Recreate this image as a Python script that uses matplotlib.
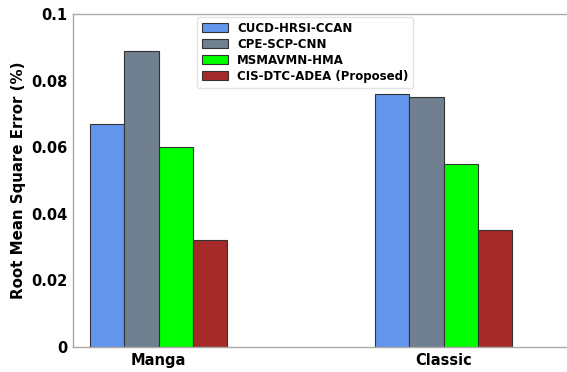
import matplotlib
matplotlib.use("Agg")
import matplotlib.pyplot as plt
import numpy as np

categories = ["Manga", "Classic"]
methods = ["CUCD-HRSI-CCAN", "CPE-SCP-CNN", "MSMAVMN-HMA", "CIS-DTC-ADEA (Proposed)"]
rmse_cucd = [0.067, 0.076]
rmse_cpe = [0.089, 0.075]
rmse_msmavmn = [0.060, 0.055]
rmse_cis = [0.032, 0.035]
yticks = [0, 0.02, 0.04, 0.06, 0.08, 0.1]
ytick_labels = ["0", "0.02", "0.04", "0.06", "0.08", "0.1"]

colors = ["#6495ED", "#708090", "#00FF00", "#A52A2A"]
series = [rmse_cucd, rmse_cpe, rmse_msmavmn, rmse_cis]

fig = plt.figure(figsize=(5.67, 3.72), dpi=100)
ax = fig.add_axes([73 / 567, 25 / 372, 513 / 567, 333 / 372])

x = np.arange(len(categories))
width = 0.121
for i, (vals, c, name) in enumerate(zip(series, colors, methods)):
    ax.bar(x + (i - 1.5) * width, vals, width, color=c, edgecolor="#333333",
           linewidth=0.8, label=name)

ax.set_xlim(-0.30, 1.50)
ax.set_ylim(0, 0.1)
ax.set_xticks(x)
ax.set_xticklabels(categories, fontsize=10.5, fontweight="bold")
ax.set_yticks(yticks)
ax.set_yticklabels(ytick_labels, fontsize=10.5, fontweight="bold")
ax.tick_params(axis="both", length=0, pad=4)
ax.set_ylabel("Root Mean Square Error (%)", fontsize=10.8, fontweight="bold")

for s in ax.spines.values():
    s.set_color("#aaaaaa")
    s.set_linewidth(1.0)

leg = ax.legend(loc="upper left", bbox_to_anchor=(124 / 513, 0.99),
                prop={"weight": "bold", "size": 8.5}, frameon=True,
                handlelength=2.2, handleheight=0.8, borderpad=0.4,
                labelspacing=0.25, borderaxespad=0)
leg.get_frame().set_edgecolor("#dddddd")

fig.savefig("out.png", dpi=100)
